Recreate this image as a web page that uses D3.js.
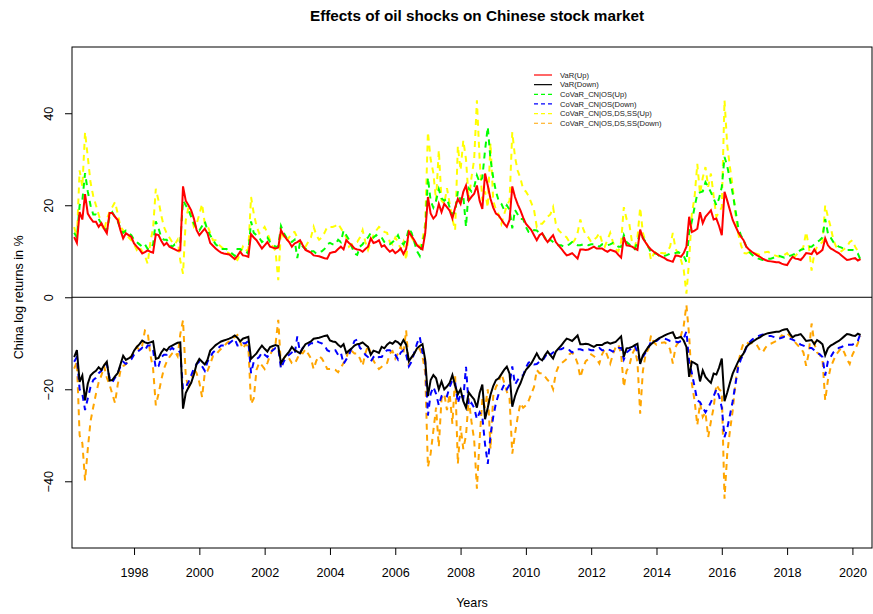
<!DOCTYPE html>
<html>
<head>
<meta charset="utf-8">
<script src="https://cdn.jsdelivr.net/npm/d3@7/dist/d3.min.js"></script>
<style>
body { margin: 0; background: #fff; }
svg { font-family: "Liberation Sans", Arial, Helvetica, sans-serif; }
</style>
</head>
<body>
<div id="chart"></div>
<script>
// monthly values, March 1996 .. April 2020 (one row per year)
const firstYear = 1996, firstMonth = 3;

const varUp = [
  13.1, 11.8, 18.5, 16.9, 22.4, 18.2, 17.2, 16.4, 16.4, 15.3,
  16.1, 14.9, 13.9, 18.3, 18.3, 17.5, 16.8, 14.6, 12.8, 13.9, 13.5, 13.1,
  11.7, 11.0, 10.4, 9.5, 9.8, 10.2, 9.9, 9.7, 13.7, 13.5, 12.3, 11.3,
  11.8, 11.0, 10.7, 10.4, 10.1, 10.2, 24.1, 21.0, 20.0, 18.9, 17.1, 14.6,
  13.5, 14.2, 14.9, 13.9, 11.8, 11.2, 10.6, 10.1, 9.7, 9.5, 9.4, 9.3,
  8.8, 8.3, 9.0, 9.9, 9.1, 9.0, 8.8, 13.7, 13.0, 12.4, 11.5, 10.6,
  11.3, 12.0, 11.0, 10.8, 10.6, 10.8, 14.6, 13.5, 12.7, 12.0, 11.0, 11.7,
  12.0, 12.4, 11.3, 10.3, 10.0, 9.7, 9.1, 9.0, 8.9, 8.7, 8.5, 8.4,
  9.6, 9.8, 9.9, 10.5, 11.0, 10.4, 12.4, 11.8, 11.3, 10.6, 10.4, 10.3,
  9.9, 10.5, 11.0, 12.8, 11.8, 12.0, 12.4, 11.0, 11.3, 10.5, 9.9, 10.3,
  9.6, 10.0, 10.6, 9.4, 10.5, 14.2, 13.3, 12.4, 11.3, 10.8, 10.4, 13.9,
  21.8, 18.2, 17.1, 17.8, 20.3, 18.5, 20.3, 19.6, 18.8, 17.1, 19.5, 21.4,
  20.3, 22.9, 24.3, 21.0, 21.8, 22.5, 24.3, 21.0, 19.2, 26.9, 24.3, 21.4,
  19.5, 18.2, 17.8, 16.9, 16.0, 15.3, 16.8, 24.1, 21.8, 20.2, 18.9, 17.3,
  16.0, 15.3, 14.6, 13.5, 12.4, 13.5, 13.9, 12.8, 12.0, 12.8, 13.5, 12.0,
  11.3, 10.6, 9.8, 9.1, 9.3, 9.6, 9.0, 8.4, 10.4, 10.4, 10.3, 10.4,
  10.7, 11.0, 10.6, 10.6, 10.6, 10.2, 9.9, 10.3, 10.1, 9.9, 9.2, 8.6,
  13.1, 11.3, 11.2, 11.0, 10.6, 10.3, 14.7, 12.8, 11.9, 11.0, 10.4, 9.9,
  9.5, 9.1, 8.8, 8.5, 8.1, 7.9, 7.7, 9.1, 9.0, 8.8, 9.6, 11.0,
  17.5, 14.2, 14.5, 14.9, 18.5, 16.1, 17.5, 18.2, 18.9, 16.9, 17.1, 15.5,
  13.5, 22.9, 21.0, 18.9, 16.8, 15.5, 14.2, 13.2, 12.4, 11.0, 10.4, 9.9,
  9.5, 9.1, 8.8, 8.4, 8.1, 7.9, 7.8, 7.7, 7.6, 7.6, 7.3, 7.1,
  7.0, 8.0, 8.8, 8.4, 8.3, 8.1, 8.8, 9.6, 9.5, 9.4, 10.4, 9.4,
  9.8, 10.3, 12.8, 11.3, 10.6, 10.3, 9.9, 9.6, 9.1, 8.6, 8.1, 8.2,
  8.4, 8.5, 8.0, 8.3
];

const varDown = [
  -13.0, -11.5, -18.4, -17.0, -22.4, -18.8, -17.0, -16.4, -16.0, -15.2,
  -15.8, -14.8, -14.0, -18.1, -18.0, -17.2, -16.5, -14.6, -12.7, -13.6, -13.3, -12.9,
  -11.6, -10.8, -10.2, -9.4, -9.8, -10.0, -9.8, -9.6, -13.4, -13.2, -12.0, -11.2,
  -11.6, -10.8, -10.5, -10.2, -9.9, -9.8, -24.2, -20.8, -19.6, -18.6, -16.8, -14.5,
  -13.4, -14.0, -14.6, -13.6, -11.6, -11.0, -10.4, -10.0, -9.6, -9.4, -9.2, -9.0,
  -8.7, -8.3, -8.8, -9.6, -9.0, -8.8, -8.6, -13.4, -12.8, -12.2, -11.3, -10.5,
  -11.2, -11.8, -10.8, -10.6, -10.4, -10.6, -14.3, -13.3, -12.5, -11.8, -10.8, -11.5,
  -11.8, -12.2, -11.1, -10.2, -9.9, -9.6, -9.0, -8.9, -8.8, -8.6, -8.4, -8.3,
  -9.4, -9.6, -9.7, -10.3, -10.8, -10.2, -12.1, -11.6, -11.1, -10.5, -10.2, -10.1,
  -9.8, -10.3, -10.8, -12.5, -11.6, -11.8, -12.1, -10.8, -11.1, -10.3, -9.8, -10.1,
  -9.5, -9.8, -10.4, -9.3, -10.3, -13.9, -13.0, -12.2, -11.1, -10.6, -10.2, -13.6,
  -21.5, -18.0, -16.9, -17.6, -20.0, -18.3, -20.0, -19.4, -18.6, -16.9, -19.2, -21.1,
  -20.0, -22.6, -24.0, -20.7, -21.5, -22.2, -24.0, -20.8, -19.0, -26.5, -24.0, -21.2,
  -19.3, -18.0, -17.6, -16.7, -15.8, -15.1, -16.6, -23.8, -21.5, -19.9, -18.7, -17.1,
  -15.8, -15.1, -14.4, -13.3, -12.2, -13.3, -13.7, -12.6, -11.8, -12.6, -13.3, -11.8,
  -11.1, -10.5, -9.7, -9.0, -9.2, -9.5, -8.9, -8.3, -10.2, -10.2, -10.1, -10.2,
  -10.5, -10.8, -10.4, -10.4, -10.4, -10.0, -9.8, -10.1, -9.9, -9.7, -9.1, -8.5,
  -12.9, -11.1, -11.0, -10.8, -10.4, -10.1, -14.5, -12.6, -11.7, -10.8, -10.2, -9.7,
  -9.3, -8.9, -8.6, -8.3, -8.0, -7.8, -7.6, -8.9, -8.8, -8.6, -9.4, -10.8,
  -17.3, -14.0, -14.3, -14.7, -18.3, -15.9, -17.3, -18.0, -18.6, -16.6, -16.8, -15.3,
  -13.3, -22.6, -20.7, -18.6, -16.6, -15.3, -14.0, -13.0, -12.2, -10.8, -10.2, -9.8,
  -9.4, -9.0, -8.7, -8.3, -8.0, -7.8, -7.7, -7.6, -7.5, -7.5, -7.2, -7.0,
  -6.9, -7.9, -8.7, -8.3, -8.2, -8.0, -8.7, -9.5, -9.4, -9.3, -10.2, -9.3,
  -9.7, -10.2, -12.6, -11.1, -10.5, -10.2, -9.8, -9.5, -9.0, -8.5, -8.0, -8.1,
  -8.3, -8.4, -7.9, -8.2
];

const coOsUp = [
  14, 13, 20, 21, 27, 23, 20, 18, 18, 17,
  16, 15, 14.5, 17.5, 18.5, 17.5, 16.5, 15, 14, 14.5, 14, 13.5,
  12.5, 12, 11.5, 11, 11.5, 10.5, 10.5, 11.5, 16.5, 15, 13, 12.5,
  12.5, 11.5, 11, 11.5, 11.5, 12, 21, 20, 19, 17.5, 16, 15,
  14.5, 15.5, 16.5, 14.5, 13.5, 12.5, 11.5, 11, 10.5, 10.5, 10.5, 10,
  9.5, 9, 10.5, 10.5, 10, 10, 9.5, 16.5, 14, 13.5, 13, 12,
  12.5, 13, 12, 11.5, 11, 11, 15.5, 14, 13, 12.5, 12, 12.5,
  8.5, 12, 11, 10.5, 10.5, 10, 10, 9.5, 9.8, 10, 10.5, 11.5,
  11.8, 11.5, 11.5, 12.5, 12, 14.5, 13.5, 12.5, 11, 9.5, 9.2, 11,
  11.5, 12.5, 13, 14, 13, 13.5, 13, 13, 12, 11.5, 11.5, 12,
  12.5, 13.5, 12, 11.5, 12.5, 15, 14, 12, 10, 9, 12, 14,
  26, 21, 19.5, 21, 23.5, 21.5, 21, 21.5, 19.5, 18, 18.5, 23,
  21, 22, 15.3, 23.7, 23, 24, 26.5, 25, 26, 32, 37, 30,
  26, 23, 21, 20.3, 19, 20, 19, 15, 19, 18, 17, 17,
  15.3, 14.2, 14, 14.6, 14.5, 14, 13.9, 13, 12, 12.5, 12, 11.5,
  11.3, 11.3, 11, 11.3, 11.5, 12, 11.5, 11.3, 11.3, 11.5, 11.5, 11.3,
  11.5, 11.5, 11.3, 11, 11.5, 11.5, 11.3, 11.5, 11.8, 11.5, 11, 11,
  13.5, 12, 11.5, 11, 10.5, 12, 14, 13, 12, 11, 9.6, 9.5,
  9.5, 9, 8.8, 9, 9.2, 9.5, 9.6, 9.6, 9.8, 9.5, 9, 7.7,
  14, 16.5, 19.6, 22.5, 22.8, 23, 25, 24, 22.8, 21.5, 20, 21.5,
  24, 30.5, 28.5, 25.6, 22.6, 19, 15.3, 13.5, 12.4, 11, 9.9, 9.3,
  8.8, 8.5, 8.3, 8.1, 8.2, 8.4, 8.4, 8.6, 8.8, 9, 8.8, 8.6,
  8.8, 9, 9.2, 9.5, 9.8, 10.3, 10.5, 10.8, 11, 11, 11.5, 12,
  12.4, 13, 17, 13.9, 13, 12, 11.5, 11, 10.8, 10.5, 10.3, 10.3,
  10.3, 10, 9.5, 8.1
];

const coOsDown = [
  -14, -13, -20, -21, -24.5, -22, -19.5, -18, -17.5, -16.5,
  -16, -15, -14.5, -17.5, -18.5, -17.5, -16.5, -15, -14, -14.5, -14, -13.5,
  -12.5, -12, -11.5, -11, -11.5, -10.5, -10.5, -11.5, -15.5, -15, -13, -12.5,
  -12.5, -11.5, -11, -11.5, -11.5, -12, -20, -19.5, -18.5, -17, -15.5, -14.5,
  -14, -15, -16, -14, -13, -12, -11.5, -11, -10.5, -10.5, -10.5, -10,
  -9.5, -9, -10.5, -10.5, -10, -10, -9.5, -16.5, -14, -13.5, -13, -12,
  -12.5, -13, -12, -11.5, -11, -11, -15.5, -14, -13, -12.5, -12, -12.5,
  -8.5, -12, -11, -10.5, -10.5, -10, -10, -9.5, -9.8, -10, -10.5, -11.5,
  -11.8, -11.5, -11.5, -12.5, -12, -14.5, -13.5, -12.5, -11, -9.5, -9.2, -11,
  -11.5, -12.5, -13, -14, -13, -13.5, -13, -13, -12, -11.5, -11.5, -12,
  -12.5, -13.5, -12, -11.5, -12.5, -15, -14, -12, -10, -8.6, -12, -14,
  -25.7, -21, -19.5, -21, -23.5, -21.5, -21, -21.5, -19.5, -18, -18.5, -23,
  -21, -22, -15.1, -23.7, -23, -24, -26.5, -25, -26, -32, -36.2, -30,
  -26, -23, -21, -20.3, -19, -20, -19, -15, -19, -18, -17, -17,
  -15.3, -14.2, -14, -14.6, -14.5, -14, -13.9, -13, -12, -12.5, -12, -11.5,
  -11.3, -11.3, -11, -11.3, -11.5, -12, -11.5, -11.3, -11.3, -11.5, -11.5, -11.3,
  -11.5, -11.5, -11.3, -11, -11.5, -11.5, -11.3, -11.5, -11.8, -11.5, -11, -11,
  -13.5, -12, -11.5, -11, -10.5, -12, -14, -13, -12, -11, -9.6, -9.5,
  -9.5, -9, -8.8, -9, -9.2, -9.5, -9.6, -9.6, -9.8, -9.5, -9, -7.4,
  -14, -16.5, -19.5, -22.4, -22.8, -23.9, -25, -24, -22.8, -21.5, -20, -21.5,
  -24, -30.4, -28.5, -25.6, -22.6, -19, -15.3, -13.5, -12.4, -11, -9.9, -9.3,
  -8.8, -8.5, -8.3, -8.1, -8.2, -8.4, -8.4, -8.6, -8.8, -9, -8.8, -8.6,
  -8.8, -9, -9.2, -9.5, -9.8, -10.3, -10.5, -10.8, -11, -11, -11.5, -12,
  -12.4, -13, -17, -13.9, -13, -12, -11.5, -11, -10.8, -10.5, -10.3, -10.3,
  -10.3, -10, -9.5, -7.8
];

const coAllUp = [
  15.3, 13, 27.6, 24, 35.9, 30.5, 25, 22, 20, 18,
  15.9, 14.5, 17, 18.5, 19.6, 20.7, 18.2, 15.3, 14.6, 14, 13, 12.4,
  11.5, 10.3, 11, 10, 9, 7.3, 12, 15, 23.6, 21, 17.8, 15.3,
  13.9, 13, 12, 11.5, 12.5, 8, 5.1, 16.7, 19.6, 17.5, 15.3, 16,
  18, 20.3, 16, 15.5, 14, 12.4, 12.4, 11.5, 11, 10.5, 9.9, 9.5,
  9, 8.5, 8.1, 9.5, 11, 10, 10.5, 21.8, 18.2, 15.5, 13.9, 14.5,
  15.3, 14, 12.4, 11, 10, 3.7, 14.6, 13, 12.2, 13, 14, 14.2,
  13, 11.7, 12, 11, 12, 13, 15.3, 13.5, 12.5, 13, 14, 15.3,
  15.3, 15.3, 15.5, 16, 15, 14, 13, 11, 11.5, 12, 12, 13,
  14.6, 12, 10.3, 12, 13.5, 14.5, 15.3, 14.8, 14.2, 14, 12, 11.5,
  13, 12, 10.5, 12, 8.1, 14.6, 13, 12, 11.5, 11, 12.5, 16,
  35.9, 30, 27, 21, 32, 21, 20.3, 23.7, 20.3, 17, 14.6, 32.9,
  27.6, 34.1, 30, 21, 26, 30, 42.8, 30, 21, 23, 19.5, 33.5,
  21, 19, 18, 16, 18, 20, 21, 35.9, 30.5, 27.5, 25.9, 23.5,
  23, 22, 20.5, 19, 15.3, 16, 16, 16.7, 17.5, 18, 19.6, 16,
  14.6, 14, 13.5, 13, 12, 11.7, 12.5, 14, 16.9, 15, 13.5, 13,
  12, 12.5, 13, 14, 12, 11, 12.5, 14, 12, 10.5, 10, 12,
  19.6, 17, 16, 12, 11, 13, 19.5, 14, 12, 11, 8.1, 9.5,
  10, 9.6, 9.6, 9.5, 10, 11, 14, 10.5, 9.5, 8.1, 6, 0.8,
  8.1, 18.2, 21.8, 29, 22.5, 26, 28.3, 24, 26.9, 22, 17.5, 18.5,
  19.6, 42.8, 33, 28.3, 24, 18.2, 13.9, 11.5, 9.6, 9.5, 9.8, 9.7,
  9.6, 9.4, 9.2, 9.6, 9.8, 9.9, 9.5, 9.2, 9, 8.8, 8.8, 9.2,
  9.6, 8.8, 8.6, 9, 9.6, 10, 11, 14.2, 11, 5.8, 9.5, 11,
  11.5, 12, 20, 17.5, 15.3, 12.5, 11, 10.5, 10, 10.5, 11, 12,
  12.4, 11, 10, 9.6
];

const coAllDown = [
  -15.5, -14, -30, -31.7, -39.8, -33, -27, -23.9, -21, -18.5,
  -17, -15, -17.5, -19, -21, -23, -19, -16, -15, -14.5, -13.5, -12.8,
  -12, -10.8, -11.5, -10.5, -7.2, -7.5, -12.5, -15.5, -23.5, -21, -18, -15.5,
  -14, -13, -12.2, -11.8, -12.8, -8, -5, -17, -20, -18, -15.5, -16.5,
  -18.5, -21.7, -16.5, -16, -14.5, -12.8, -12.6, -11.8, -11.2, -10.7, -10, -9.6,
  -9.2, -8.6, -8.2, -9.7, -11.2, -10.2, -10.7, -23.2, -22, -15.8, -14.2, -14.8,
  -15.6, -14.3, -12.6, -11.2, -10.2, -4.9, -15, -13.3, -12.5, -13.3, -14.3, -14.5,
  -13.3, -12, -12.2, -11.3, -12.3, -13.3, -15.6, -13.8, -12.8, -13.3, -14.3, -15.6,
  -15.6, -15.6, -15.8, -16.3, -15.3, -14.3, -13.3, -11.2, -11.7, -12.2, -12.2, -13.3,
  -14.9, -12.2, -10.5, -12.2, -13.8, -14.8, -15.6, -15.1, -14.5, -14.3, -12.2, -11.7,
  -13.3, -12.2, -10.7, -12.2, -7.2, -14.9, -13.3, -12.2, -11.7, -11.2, -12.8, -16.3,
  -36.9, -34, -29, -24, -32.5, -22, -21, -24.5, -21, -27.5, -17, -36.2,
  -28, -33, -30, -22, -27, -31, -41.6, -31, -22, -24, -20, -33,
  -21.5, -19.5, -18.5, -16.5, -18.5, -20.5, -22, -34, -29.7, -26, -23, -24,
  -23.5, -22.5, -21, -19.5, -15.8, -16.5, -16.5, -17.2, -18, -18.5, -20, -16.5,
  -15, -14.4, -13.9, -13.4, -12.4, -12, -12.8, -14.4, -17.4, -15.4, -13.9, -13.4,
  -12.4, -12.8, -13.4, -14.4, -12.4, -11.3, -12.8, -14.4, -12.4, -10.8, -10.3, -12.4,
  -19.5, -16, -15, -12.4, -11.3, -14, -25.3, -16, -12.4, -11.3, -8.3, -9.8,
  -10.3, -9.9, -9.9, -9.8, -10.3, -11.3, -14.4, -10.8, -9.8, -8.3, -6.2, -1.7,
  -8.3, -18.8, -22.5, -27.8, -23, -26, -25, -30.4, -27, -24, -19, -20,
  -20.5, -43.8, -34, -29, -24.7, -18.7, -14.4, -11.8, -9.9, -9.8, -10.1, -10,
  -9.9, -10.5, -11.5, -12, -11, -10.3, -10.1, -9.8, -9.5, -9, -8.3, -8.5,
  -7.8, -8.4, -9, -9.8, -10.5, -11, -12, -14.9, -12, -5.7, -10, -12,
  -12.5, -13.5, -22.4, -18, -15.2, -13.8, -12.5, -11.7, -11, -12, -13.5, -14.5,
  -12.5, -11.3, -10, -8.4
];

const seriesNames = ["VaR(Up)", "VaR(Down)", "CoVaR_CN|OS(Up)", "CoVaR_CN|OS(Down)",
                     "CoVaR_CN|OS,DS,SS(Up)", "CoVaR_CN|OS,DS,SS(Down)"];
const seriesColors = ["#ff0000", "#000000", "#00ff00", "#0000ff", "#ffff00", "#ffa500"];
const seriesValues = [varUp, varDown, coOsUp, coOsDown, coAllUp, coAllDown];
const yearTicks = d3.range(1998, 2021, 2);
const yTicks = [-40, -20, 0, 20, 40];

const width = 873, height = 614;
const margin = {top: 47, right: 1, bottom: 66, left: 72};

// decimal year of every observation
const months = varUp.map((v, i) => firstYear + (firstMonth - 1 + i) / 12);

let svg = d3.select("#chart")
  .append("svg")
    .attr("width", width)
    .attr("height", height);

let xScale = d3.scaleLinear()
  .domain([1996.1, 2020.6])
  .range([margin.left, width - margin.right]);

let yScale = d3.scaleLinear()
  .domain([-54.5, 54.4])
  .range([height - margin.bottom, margin.top]);

// lines, dashed ones first so the solid VaR lines sit on top
const drawOrder = [4, 5, 2, 3, 0, 1];
const line = d3.line()
  .x((d, i) => xScale(months[i]))
  .y(d => yScale(d));

drawOrder.forEach(k => {
  svg.append("path")
    .datum(seriesValues[k])
    .attr("fill", "none")
    .attr("stroke", seriesColors[k])
    .attr("stroke-width", 2)
    .attr("stroke-dasharray", k > 1 ? "6,5" : null)
    .attr("d", line);
});

// horizontal line at zero
svg.append("line")
  .attr("x1", margin.left).attr("x2", width - margin.right)
  .attr("y1", yScale(0)).attr("y2", yScale(0))
  .attr("stroke", "#000").attr("stroke-width", 1);

// axes
let xAxis = svg.append("g")
  .attr("transform", `translate(0, ${height - margin.bottom})`)
  .call(d3.axisBottom(xScale).tickValues(yearTicks).tickFormat(d3.format("d")).tickSize(7).tickSizeOuter(0));
xAxis.select(".domain").remove();
xAxis.selectAll("text")
  .attr("y", 29).attr("dy", null)
  .attr("font-size", "12.6px").attr("font-family", null);

let yAxis = svg.append("g")
  .attr("transform", `translate(${margin.left}, 0)`)
  .call(d3.axisLeft(yScale).tickValues(yTicks).tickSize(7).tickSizeOuter(0));
yAxis.select(".domain").remove();
yAxis.selectAll("text")
  .attr("x", null).attr("dy", null)
  .attr("text-anchor", "middle")
  .attr("transform", "translate(-19.5, 0) rotate(-90)")
  .attr("font-size", "12.6px").attr("font-family", null);

// plot box
svg.append("rect")
  .attr("x", margin.left).attr("y", margin.top)
  .attr("width", width - margin.right - margin.left)
  .attr("height", height - margin.bottom - margin.top)
  .attr("fill", "none").attr("stroke", "#000").attr("stroke-width", 1);

// titles
svg.append("text")
  .attr("x", 477).attr("y", 21)
  .attr("text-anchor", "middle")
  .attr("font-size", "15.3px").attr("font-weight", "bold")
  .text("Effects of oil shocks on Chinese stock market");

svg.append("text")
  .attr("x", (margin.left + width - margin.right) / 2).attr("y", 607)
  .attr("text-anchor", "middle")
  .attr("font-size", "12.6px")
  .text("Years");

svg.append("text")
  .attr("transform", `translate(22.5, ${yScale(0)}) rotate(-90)`)
  .attr("text-anchor", "middle")
  .attr("font-size", "12.6px")
  .text("China log returns in %");

// legend (no frame)
let legend = svg.append("g").attr("transform", "translate(534, 75)");
seriesNames.forEach((name, i) => {
  let row = legend.append("g").attr("transform", `translate(0, ${i * 9.65})`);
  row.append("line")
    .attr("x1", 0).attr("x2", 18)
    .attr("stroke", seriesColors[i]).attr("stroke-width", 1.2)
    .attr("stroke-dasharray", i > 1 ? "4,3" : null);
  row.append("text")
    .attr("x", 26).attr("dy", "0.35em")
    .attr("font-size", "7.6px").attr("fill", "#222")
    .text(name);
});
</script>
</body>
</html>
